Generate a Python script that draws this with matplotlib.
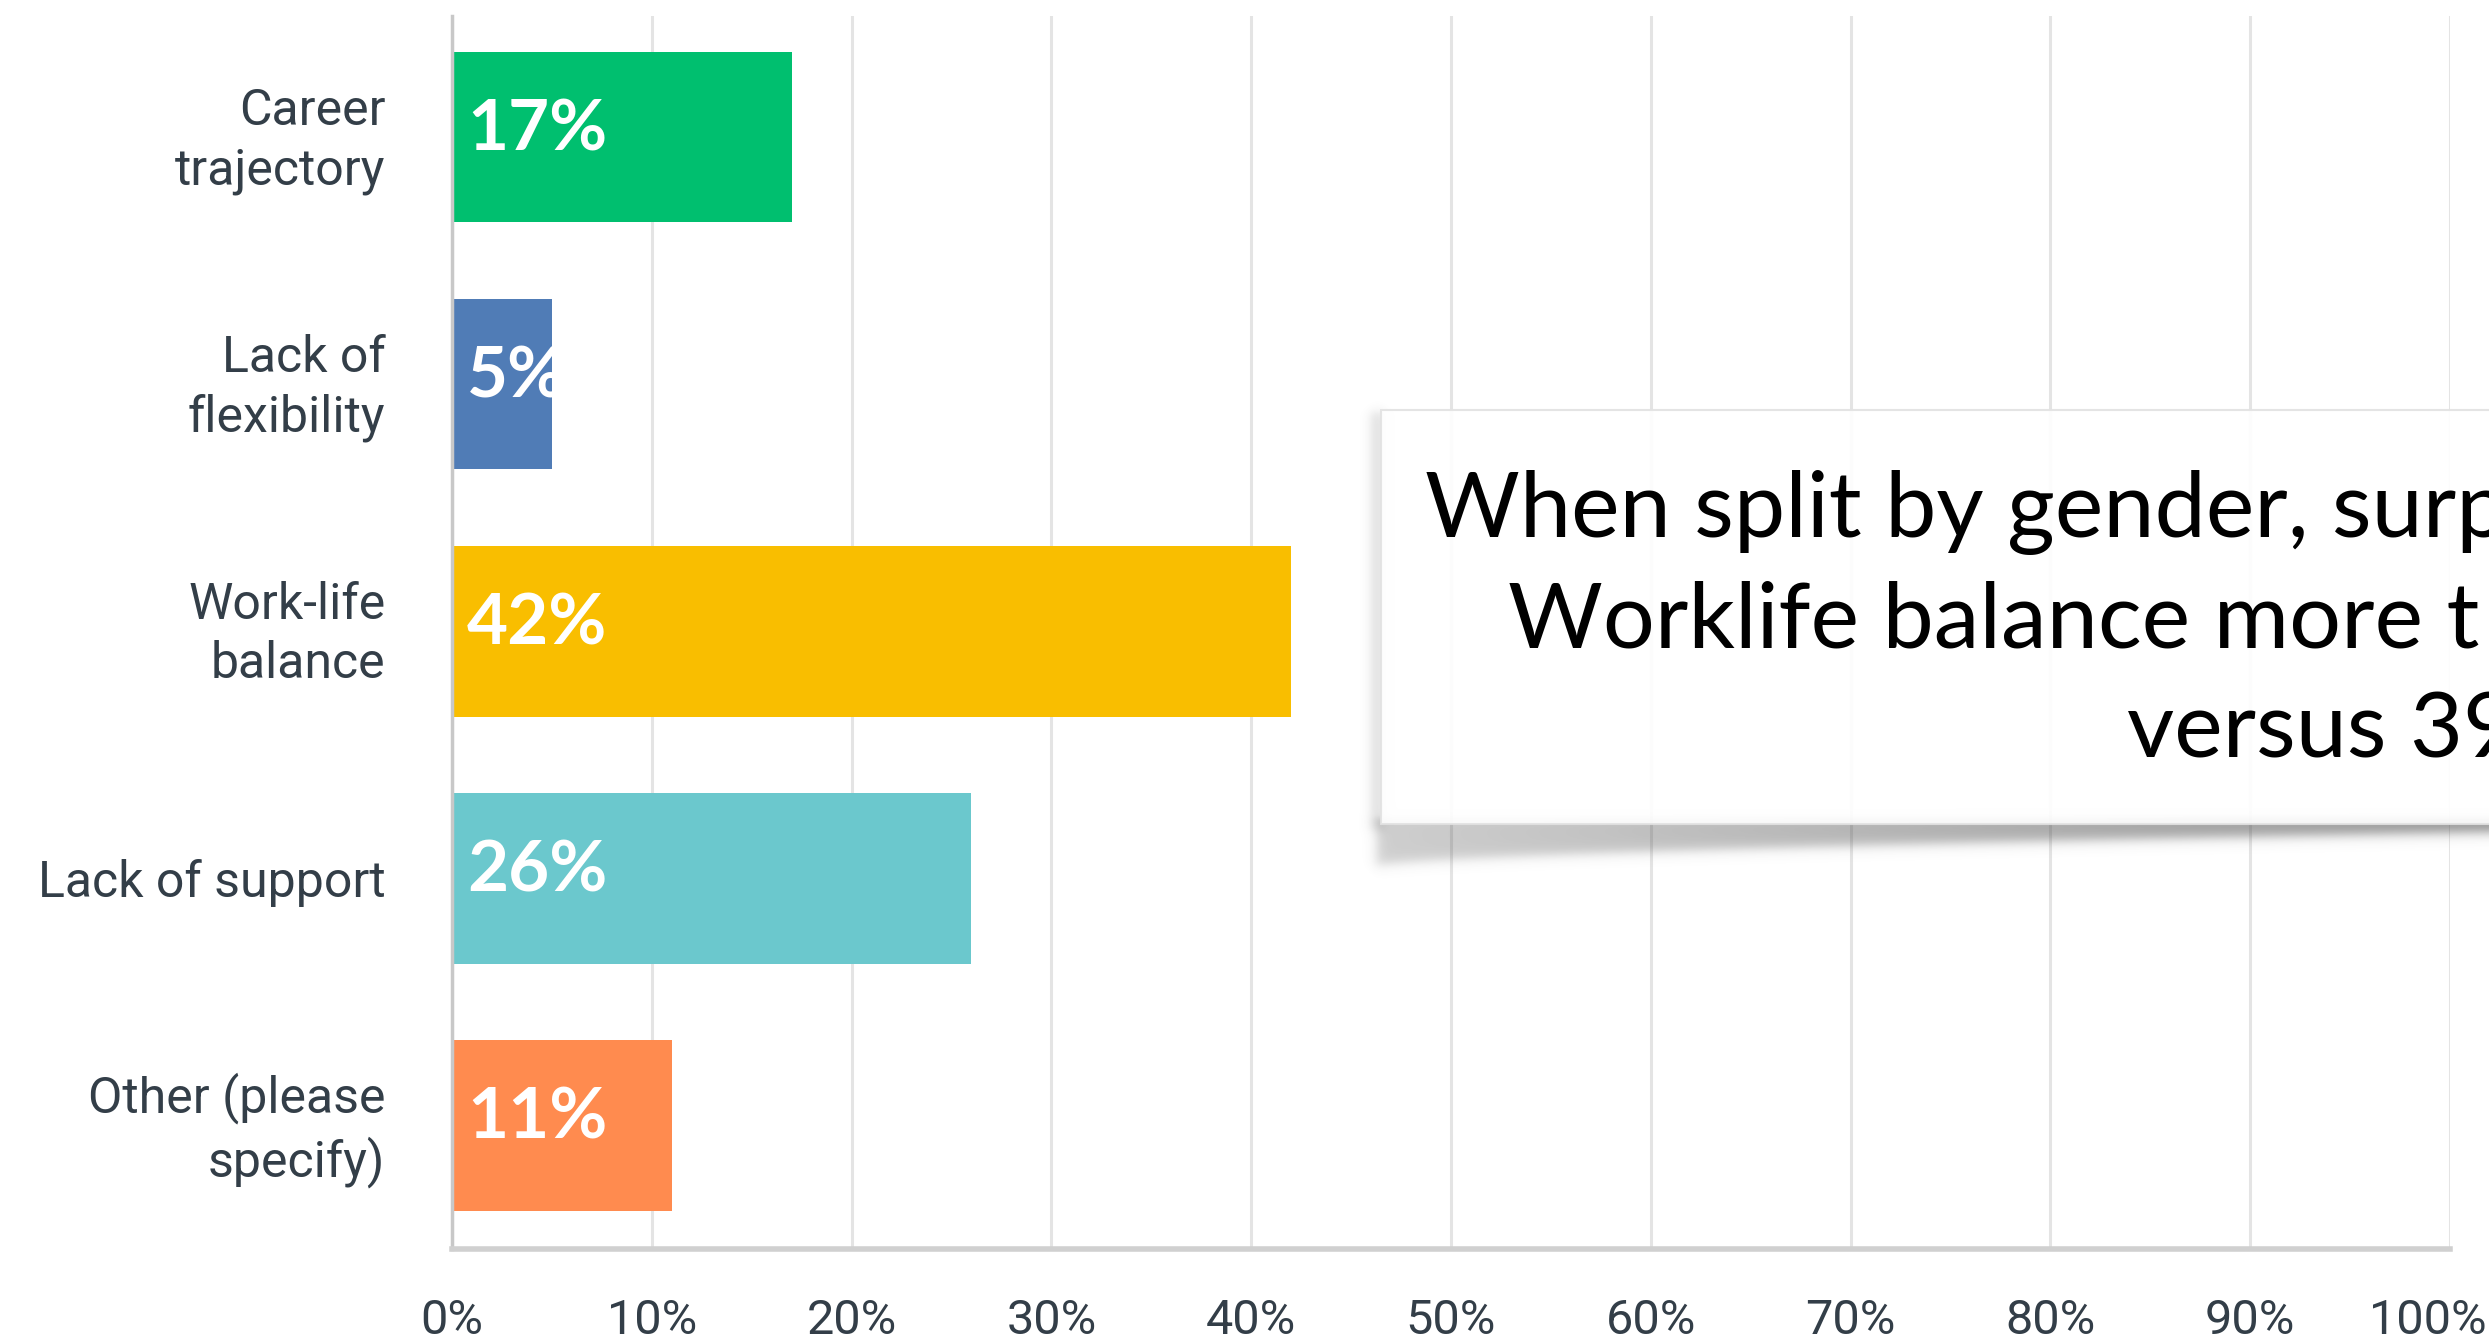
import numpy as np
import matplotlib
matplotlib.use("Agg")
import matplotlib.pyplot as plt
from matplotlib.patches import Rectangle
from matplotlib.transforms import ScaledTranslation

# Survey answers and their shares (percent)
categories = ["Career\ntrajectory", "Lack of\nflexibility", "Work-life\nbalance",
              "Lack of support", "Other (please\nspecify)"]
values = [17, 5, 42, 26, 11]
bar_colors = ["#00BF6F", "#507CB6", "#F9BE00", "#6BC8CD", "#FF8B4F"]
x_ticks = [0, 10, 20, 30, 40, 50, 60, 70, 80, 90, 100]
x_tick_labels = [f"{t}%" for t in x_ticks]

callout_lines = ["When split by gender, surp",
                 "Worklife balance more t",
                 "versus 39"]

W, H = 2489, 1343
DPI = 100
fig = plt.figure(figsize=(W / DPI, H / DPI), dpi=DPI)
fig.patch.set_facecolor("white")

label_color = "#333E48"

ax = fig.add_axes([452 / W, 1 - 1249 / H, (2450 - 452) / W, (1249 - 16) / H])
ypos = np.arange(len(categories))
bars = ax.barh(ypos, values, height=0.69, color=bar_colors, zorder=2)

ax.set_xlim(0, 100)
ax.set_ylim(4.5, -0.49)
ax.set_xticks(x_ticks)
ax.set_xticklabels(x_tick_labels, fontsize=35, color=label_color, family="Roboto")
ax.set_yticks(ypos)
ax.set_yticklabels(categories, fontsize=36, color=label_color, family="Roboto",
                   linespacing=1.3)
ax.tick_params(axis="x", length=0, pad=35)
ax.tick_params(axis="y", length=0, pad=48)

for lab in ax.get_yticklabels():
    lab.set_multialignment("right")
    if "\n" in lab.get_text():
        # two-line labels sit centred on their bar
        lab.set_transform(lab.get_transform()
                          + ScaledTranslation(0, 0.075, fig.dpi_scale_trans))

# keep the last tick label inside the canvas
last = ax.get_xticklabels()[-1]
last.set_horizontalalignment("right")
last.set_transform(last.get_transform() + ScaledTranslation(0.37, 0, fig.dpi_scale_trans))

ax.grid(axis="x", color="#E4E4E4", lw=2.2, zorder=0)
ax.set_axisbelow(True)
for side in ("top", "right"):
    ax.spines[side].set_visible(False)
ax.spines["left"].set_color("#C8C8C8")
ax.spines["left"].set_linewidth(2.5)
ax.spines["bottom"].set_color("#D0D0D0")
ax.spines["bottom"].set_linewidth(4)

# value labels inside each bar, clipped to the bar
for bar, v, i in zip(bars, values, ypos):
    t = ax.text(0.75, i, f"{v}%", color="white", fontsize=51, fontweight="bold",
                family="Lato", ha="left", va="baseline", zorder=3,
                transform=ax.transData + ScaledTranslation(0, -0.13, fig.dpi_scale_trans))
    t.set_clip_path(bar)

# overlay in pixel coordinates for the callout
ov = fig.add_axes([0, 0, 1, 1], zorder=5)
ov.set_xlim(0, W)
ov.set_ylim(H, 0)
ov.axis("off")
ov.patch.set_alpha(0)

# soft drop shadow under and left of the callout
x0s, x1s, y0s, y1s = 1340, W, 395, 900
xs = np.arange(x0s, x1s) + 0.5
ys = np.arange(y0s, y1s) + 0.5
X, Y = np.meshgrid(xs, ys)
tpos = np.clip((X - 1375) / (W - 1375), 0, 1)
y_bottom = 866 - 34 * tpos ** 0.6
sig = lambda z: 1 / (1 + np.exp(-z))
bottom_alpha = (0.28 + 0.34 * tpos) * sig((y_bottom - Y) / 3.5) * sig((Y - 818) / 2) \
    * sig((X - 1377) / 3.5)
left_alpha = 0.18 * sig((X - 1371) / 3) * sig((1384 - X) / 3) * sig((Y - 412) / 3) \
    * sig((830 - Y) / 3)
alpha = np.clip(bottom_alpha + left_alpha, 0, 1)
img = np.zeros((len(ys), len(xs), 4))
img[..., :3] = 0.32
img[..., 3] = alpha
ov.imshow(img, extent=(x0s, x1s, y1s, y0s), interpolation="bilinear", zorder=1)

ov.add_patch(Rectangle((1381, 410), 1200, 414, facecolor="white", alpha=0.9,
                       edgecolor="#E2E2E2", lw=1.5, zorder=2))

line_pos = [(1425, 537), (1508, 648), (2127, 757)]
for (lx, ly), txt in zip(line_pos, callout_lines):
    ov.text(lx, ly, txt, fontsize=66, family="Lato", color="black",
            ha="left", va="baseline", zorder=3, clip_on=True)

fig.savefig("out.png", dpi=DPI)
